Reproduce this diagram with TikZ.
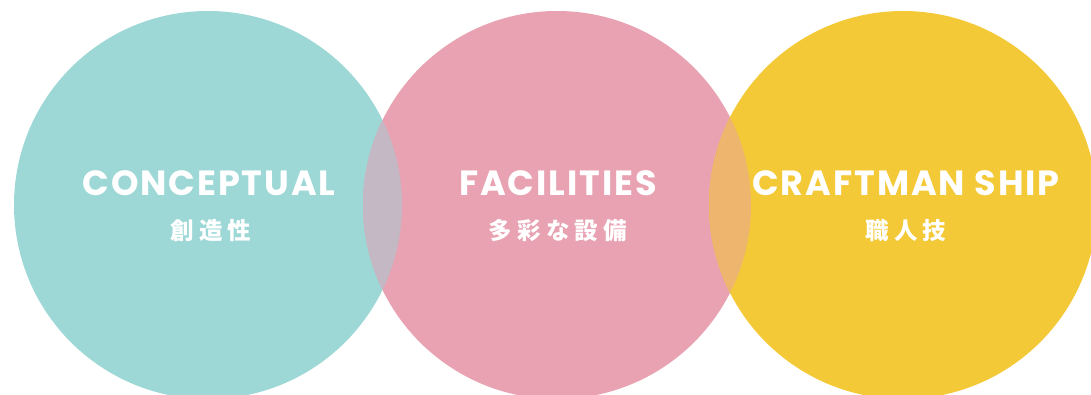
\documentclass[tikz,border=0pt]{standalone}
\usepackage{fontspec}
\usetikzlibrary{positioning}
\newfontfamily\headfont{Poppins}[LetterSpace=5.5]
\newfontfamily\jpfont{Noto Sans CJK JP}[LetterSpace=22]
\definecolor{ringTeal}{HTML}{9DD8D6}
\definecolor{ringPink}{HTML}{E8A2B1}
\definecolor{ringYellow}{HTML}{F4C937}
\definecolor{mixTealPink}{HTML}{C3B8C3}
\definecolor{mixPinkYellow}{HTML}{EEB56E}
\tikzset{
  ring/.style={circle, minimum size=388pt, inner sep=0pt, draw=none},
  teal/.style  ={ring, fill=ringTeal},
  pink/.style  ={ring, fill=ringPink},
  yellow/.style={ring, fill=ringYellow},
  title/.style={text=white, inner sep=0pt,
    font=\headfont\bfseries\fontsize{35}{35}\selectfont},
  subtitle/.style={text=white, inner sep=0pt,
    font=\jpfont\bfseries\fontsize{23.5}{23.5}\selectfont},
}

\begin{document}
\begin{tikzpicture}[x=1pt, y=-1pt]

  \useasboundingbox (0,0) rectangle (1091,395);
  \clip (0,0) rectangle (1091,395);

  % ---- Circles -----------------------------------------------------------
  \node[teal]   (concept) at (208,205) {};
  \node[pink]   (facil)   at (557,205) {};
  \node[yellow] (craft)   at (903,205) {};

  % ---- Overlaps ----------------------------------------------------------
  \begin{scope}
    \clip (concept.center) circle[radius=194pt];
    \fill[mixTealPink] (facil.center) circle[radius=194pt];
  \end{scope}
  \begin{scope}
    \clip (facil.center) circle[radius=194pt];
    \fill[mixPinkYellow] (craft.center) circle[radius=194pt];
  \end{scope}

  % ---- Labels ------------------------------------------------------------
  \node[title]    (conceptT) at (209,183) {CONCEPTUAL};
  \node[subtitle] (conceptS) at (211,231) {創造性};
  \node[title]    (facilT)   at (558,183) {FACILITIES};
  \node[subtitle] (facilS)   at (558,231) {多彩な設備};
  \node[title]    (craftT)   at (906,183) {CRAFTMAN SHIP};
  \node[subtitle] (craftS)   at (906,231) {職人技};

\end{tikzpicture}
\end{document}
